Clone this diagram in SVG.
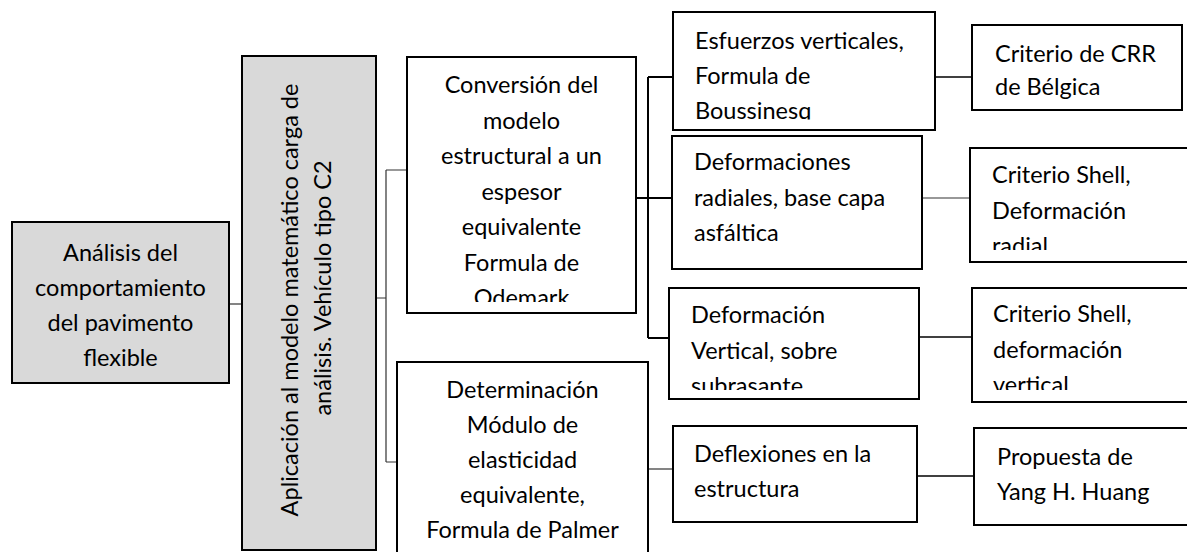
<svg xmlns="http://www.w3.org/2000/svg" width="1187" height="552" viewBox="0 0 1187 552">
<style>
.box{fill:#fff;stroke:#000;stroke-width:2}
.gray{fill:#d9d9d9;stroke:#000;stroke-width:2}
.t{font-family:Lato,"Liberation Sans",sans-serif;font-size:23.5px;fill:#000}
.c{text-anchor:middle}
.thin{fill:none;stroke:#333;stroke-width:1.2}
.thick{fill:none;stroke:#000;stroke-width:2}
</style>
<defs>
<clipPath id="cp3"><rect x="400" y="50" width="240" height="252"/></clipPath>
<clipPath id="cp5"><rect x="674" y="12" width="260" height="107.5"/></clipPath>
<clipPath id="cp7"><rect x="670" y="288" width="248" height="102"/></clipPath>
<clipPath id="cp10"><rect x="971" y="148" width="216" height="102"/></clipPath>
<clipPath id="cp11"><rect x="973" y="288" width="214" height="102"/></clipPath>
</defs>
<g id="connectors">
<path class="thin" d="M229 304H242"/>
<path class="thin" d="M376 298H386M386 170V462M386 170H407M386 462H397"/>
<path class="thick" d="M636 198H648M648 77V338M648 77H673M648 198H672M648 338H669"/>
<path class="thin" d="M648 469H673"/>
<path class="thick" style="stroke-width:1.5" d="M935 77H972"/>
<path class="thin" d="M922 198H970"/>
<path class="thick" style="stroke-width:1.5" d="M919 337H972"/>
<path class="thick" style="stroke-width:1.5" d="M917 476H974"/>
</g>
<g id="n1">
<rect class="gray" x="12" y="222" width="217" height="161"/>
<text class="t c" x="120.5" y="261">Análisis del</text>
<text class="t c" x="120.5" y="296">comportamiento</text>
<text class="t c" x="120.5" y="331">del pavimento</text>
<text class="t c" x="120.5" y="366">flexible</text>
</g>
<g id="n2">
<rect class="gray" x="242" y="56" width="134" height="494"/>
<text class="t c" transform="translate(298 300) rotate(-90)">Aplicación al modelo matemático carga de</text>
<text class="t c" transform="translate(331 288) rotate(-90)">análisis. Vehículo tipo C2</text>
</g>
<g id="n3">
<rect class="box" x="407" y="57" width="229" height="256"/>
<g clip-path="url(#cp3)">
<text class="t c" x="521.5" y="93">Conversión del</text>
<text class="t c" x="521.5" y="128.5">modelo</text>
<text class="t c" x="521.5" y="164">estructural a un</text>
<text class="t c" x="521.5" y="199.5">espesor</text>
<text class="t c" x="521.5" y="235">equivalente</text>
<text class="t c" x="521.5" y="270.5">Formula de</text>
<text class="t c" x="521.5" y="306">Odemark</text>
</g>
</g>
<g id="n4">
<rect class="box" x="397" y="362" width="251" height="200"/>
<text class="t c" x="522.5" y="398">Determinación</text>
<text class="t c" x="522.5" y="433">Módulo de</text>
<text class="t c" x="522.5" y="468">elasticidad</text>
<text class="t c" x="522.5" y="503">equivalente,</text>
<text class="t c" x="522.5" y="538">Formula de Palmer</text>
</g>
<g id="n5">
<rect class="box" x="673" y="12" width="262" height="118"/>
<g clip-path="url(#cp5)">
<text class="t" x="695" y="49">Esfuerzos verticales,</text>
<text class="t" x="695" y="84">Formula de</text>
<text class="t" x="695" y="119">Boussinesq</text>
</g>
</g>
<g id="n6">
<rect class="box" x="672" y="136" width="250" height="133"/>
<text class="t" x="694" y="170">Deformaciones</text>
<text class="t" x="694" y="205.5">radiales, base capa</text>
<text class="t" x="694" y="241">asfáltica</text>
</g>
<g id="n7">
<rect class="box" x="669" y="288" width="250" height="111"/>
<g clip-path="url(#cp7)">
<text class="t" x="691" y="323">Deformación</text>
<text class="t" x="691" y="359">Vertical, sobre</text>
<text class="t" x="691" y="394">subrasante</text>
</g>
</g>
<g id="n8">
<rect class="box" x="673" y="426" width="244" height="96"/>
<text class="t" x="694" y="462">Deflexiones en la</text>
<text class="t" x="694" y="497">estructura</text>
</g>
<g id="n9">
<rect class="box" x="972" y="25" width="210" height="85"/>
<text class="t" x="995" y="62">Criterio de CRR</text>
<text class="t" x="995" y="95">de Bélgica</text>
</g>
<g id="n10">
<rect class="box" x="970" y="148" width="230" height="114"/>
<g clip-path="url(#cp10)">
<text class="t" x="992" y="183">Criterio Shell,</text>
<text class="t" x="992" y="219">Deformación</text>
<text class="t" x="992" y="254">radial</text>
</g>
</g>
<g id="n11">
<rect class="box" x="972" y="288" width="230" height="114"/>
<g clip-path="url(#cp11)">
<text class="t" x="993" y="322">Criterio Shell,</text>
<text class="t" x="993" y="358">deformación</text>
<text class="t" x="993" y="393">vertical</text>
</g>
</g>
<g id="n12">
<rect class="box" x="974" y="428" width="230" height="97"/>
<text class="t" x="997" y="465">Propuesta de</text>
<text class="t" x="997" y="500">Yang H. Huang</text>
</g>
</svg>
